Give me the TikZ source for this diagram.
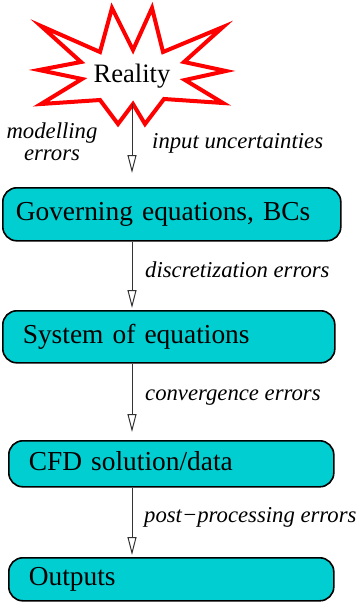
\documentclass[tikz,border=0pt]{standalone}
\usepackage{fontspec}
\setmainfont{LiberationSerif}[Extension=.ttf, UprightFont=*-Regular, ItalicFont=*-Italic, BoldFont=*-Bold, BoldItalicFont=*-BoldItalic]
\usetikzlibrary{arrows.meta}
\definecolor{boxcyan}{RGB}{0,206,209}
\tikzset{
  box/.style={draw=black, line width=1.6pt, fill=boxcyan, rounded corners=14pt,
    anchor=north west, align=left, inner ysep=0pt,
    text height=19pt, text depth=6pt,
    font=\rmfamily\fontsize{27.4}{30}\selectfont},
  flow/.style={draw=black!80, line width=1pt,
    -{Triangle[open, length=18pt, width=9pt, line width=1pt]}},
  note/.style={font=\rmfamily\fontsize{22.7}{22}\selectfont\itshape, inner sep=0pt},
}
\begin{document}
\begin{tikzpicture}[x=1pt, y=-1pt]
\useasboundingbox (0,0) rectangle (362,602);

% explosion outline around "Reality"
\draw[red, line width=4pt, fill=white, line join=miter, miter limit=10]
  (112,8) -- (133,50) -- (152,8) -- (163,52) -- (223,27) -- (184,62)
  -- (226,71) -- (185,80) -- (223,103) -- (164,99) -- (145,124)
  -- (133,104) -- (118,124) -- (100,100) -- (41,104) -- (82,79)
  -- (39,70) -- (81,62) -- (41,26) -- (100,52) -- cycle;
\node[anchor=base, inner sep=0pt, font=\rmfamily\fontsize{26.6}{30}\selectfont] (reality) at (132,82) {Reality};
\coordinate (starbot) at (132,104);

% process boxes
\node[box, inner xsep=13pt, minimum width=338pt, minimum height=53pt, text width=312pt] (gov) at (2,187) {Governing equations, BCs};
\node[box, inner xsep=20pt, minimum width=332pt, minimum height=52pt, text width=292pt] (sys) at (2,310) {System of equations};
\node[box, inner xsep=20pt, minimum width=325pt, minimum height=46pt, text width=285pt] (cfd) at (8,440) {CFD solution/data};
\node[box, inner xsep=20pt, minimum width=325pt, minimum height=43pt, text width=285pt] (out) at (8,557) {Outputs};

% error flow between stages
\draw[flow, shorten >=14pt] (starbot) -- (gov.north -| starbot);
\draw[flow, shorten >=2pt] (gov.south -| starbot) -- (sys.north -| starbot);
\draw[flow, shorten >=8pt] (sys.south -| starbot) -- (cfd.north -| starbot);
\draw[flow, shorten >=2pt] (cfd.south -| starbot) -- (out.north -| starbot);

% error sources
\node[note, align=center, anchor=base] (model) at (52,160) {modelling\\errors};
\node[note, anchor=base west] (input) at (152,148) {input uncertainties};
\node[note, anchor=base west] (disc) at (145,277) {discretization errors};
\node[note, anchor=base west] (conv) at (145,400) {convergence errors};
\node[note, anchor=base west] (post) at (144,522) {post−processing errors};
\end{tikzpicture}
\end{document}
